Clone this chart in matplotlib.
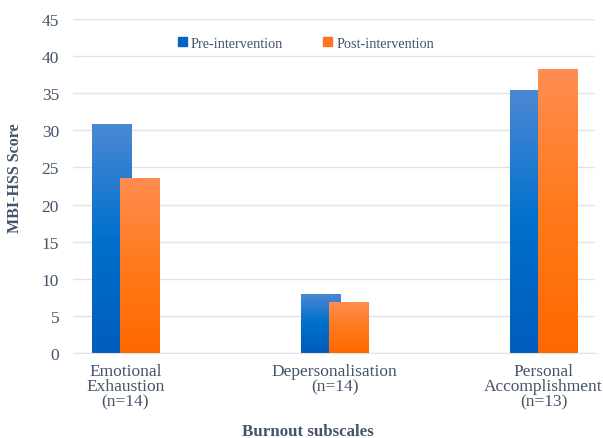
import numpy as np
import matplotlib.pyplot as plt
from matplotlib.colors import LinearSegmentedColormap

categories = ["Emotional\nExhaustion\n(n=14)", "Depersonalisation\n(n=14)", "Personal\nAccomplishment\n(n=13)"]
pre = [30.9, 8.0, 35.4]
post = [23.6, 6.9, 38.3]
series_names = ["Pre-intervention", "Post-intervention"]
yticks = list(range(0, 50, 5))

plt.rcParams['font.family'] = ['Liberation Serif', 'DejaVu Serif']
txt = '#44546A'

blue_cm = LinearSegmentedColormap.from_list('b', ['#005cbd', '#0070cd', '#4c88d3'])
orange_cm = LinearSegmentedColormap.from_list('o', ['#ff6800', '#ff7a1c', '#ff8d52'])

fig = plt.figure(figsize=(6.03, 4.39), dpi=100)
ax = fig.add_axes([73 / 603, 1 - 354 / 439, (595 - 73) / 603, (354 - 20) / 439])

x = np.arange(len(categories))
w = 0.187
off = 0.067
b1 = ax.bar(x - off, pre, w, color='#0070cd', label=series_names[0], zorder=2)
b2 = ax.bar(x + off, post, w, color='#ff7a1c', label=series_names[1], zorder=3)

# vertical gradient inside each bar
grad = np.linspace(0, 1, 256).reshape(-1, 1)
for bars, cm, z in [(b1, blue_cm, 2), (b2, orange_cm, 3)]:
    for p in bars:
        x0, y0 = p.get_x(), p.get_y()
        im = ax.imshow(grad, cmap=cm, origin='lower', aspect='auto',
                       extent=[x0, x0 + p.get_width(), y0, y0 + p.get_height()], zorder=z)
        im.set_clip_path(p)

ax.set_xlim(-0.251, 2.246)
ax.set_ylim(0, 45)
ax.set_yticks(yticks)
ax.set_xticks(x)
ax.set_xticklabels(categories, color=txt, fontsize=12.5, linespacing=0.96)
ax.tick_params(axis='y', colors=txt, labelsize=12.5, length=0, pad=10)
ax.tick_params(axis='x', length=0, pad=7)
ax.grid(axis='y', color='#dfe3e8', linewidth=1, zorder=0)
ax.set_axisbelow(True)
for s in ['top', 'right', 'left']:
    ax.spines[s].set_visible(False)
ax.spines['bottom'].set_color('#dfe3e8')

fig.text(15 / 603, 1 - 178 / 439, "MBI-HSS Score", rotation=90, ha='center', va='center',
         fontsize=11.5, fontweight='bold', color=txt)
fig.text(308 / 603, 1 - 432 / 439, "Burnout subscales", ha='center', va='center',
         fontsize=12.2, fontweight='bold', color=txt)

leg = fig.legend(handles=[b1, b2], labels=series_names, loc='center',
                 bbox_to_anchor=(306 / 603, 1 - 44 / 439), ncol=2, frameon=False,
                 fontsize=10.3, handlelength=0.6, handleheight=0.6, handletextpad=0.3,
                 columnspacing=2.8, labelcolor=txt)
for h, c in zip(leg.legend_handles, ['#0066c6', '#ff7420']):
    h.set_color(c)

plt.savefig("out.png", dpi=100)
